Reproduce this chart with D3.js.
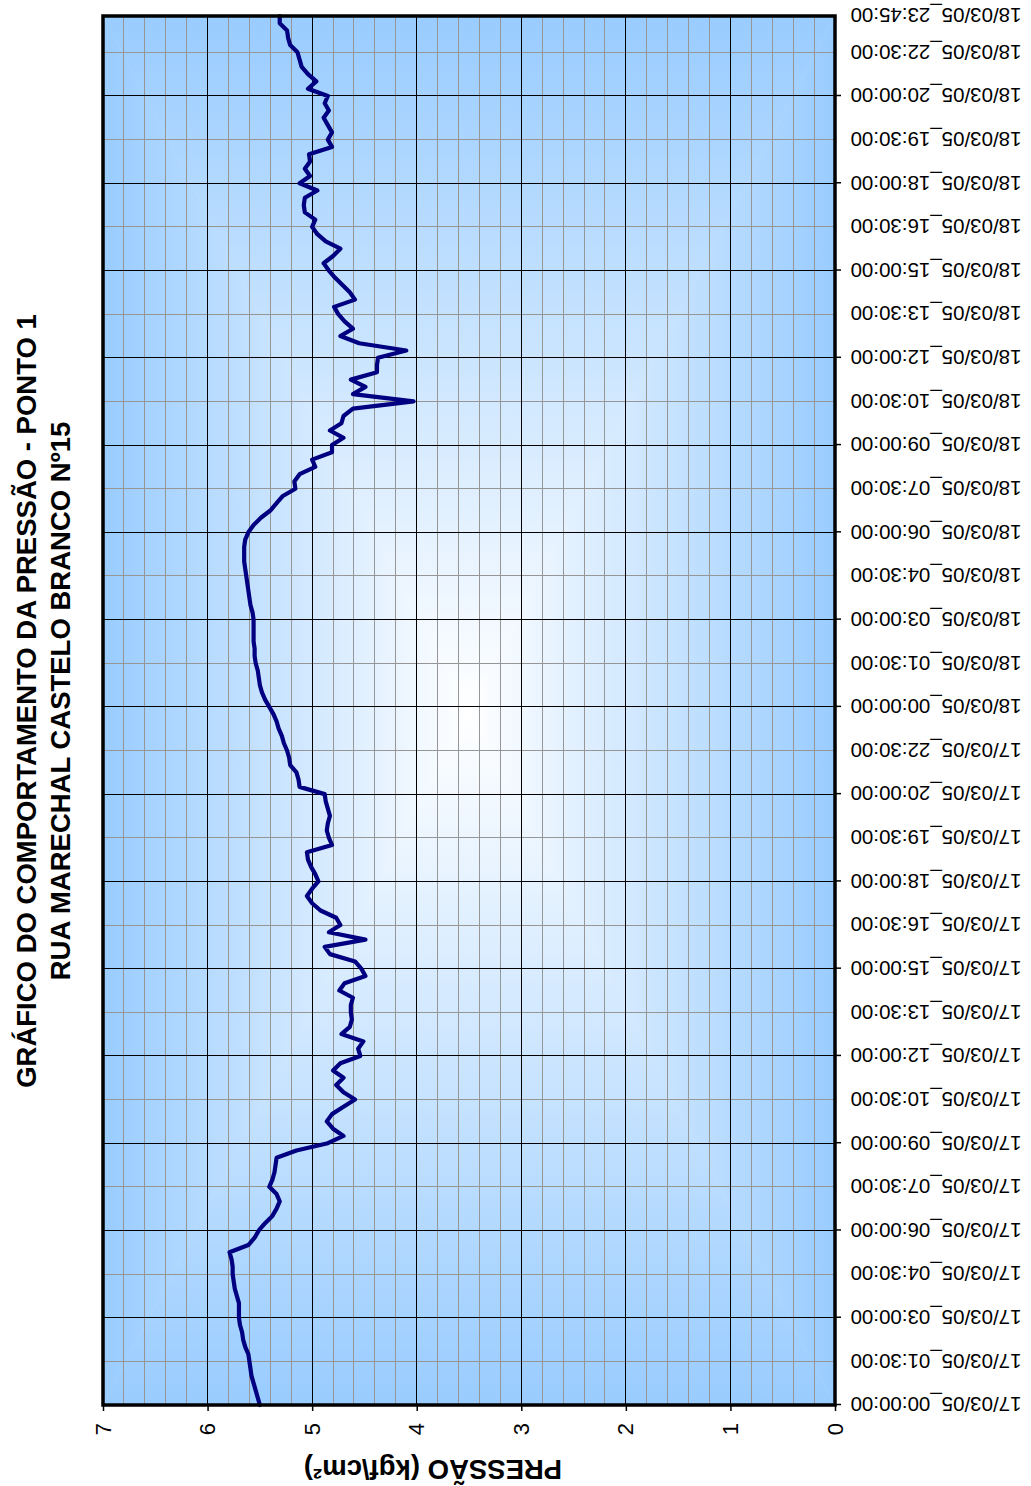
<!DOCTYPE html>
<html><head><meta charset="utf-8">
<script src="https://cdn.jsdelivr.net/npm/d3@7"></script>
<style>body{margin:0;background:#fff;} svg{display:block;font-family:"Liberation Sans",Arial,sans-serif;}</style>
</head><body><svg id="c" width="1031" height="1486"></svg>
<script>
const titleLines = ["GRÁFICO DO COMPORTAMENTO DA PRESSÃO - PONTO 1", "RUA MARECHAL CASTELO BRANCO Nº15"];
const yAxisTitle = "PRESSÃO (kgf\\cm²)";
const pressureTicks = [0, 1, 2, 3, 4, 5, 6, 7];
const pressure = [
  5.50,5.52,5.54,5.56,5.58,5.59,5.60,5.61,5.64,5.66,
  5.67,5.69,5.70,5.70,5.70,5.72,5.74,5.75,5.76,5.76,
  5.77,5.79,5.61,5.55,5.51,5.45,5.38,5.34,5.31,5.34,
  5.41,5.38,5.36,5.35,5.34,5.15,4.85,4.70,4.80,4.86,
  4.81,4.70,4.59,4.70,4.77,4.70,4.80,4.73,4.54,4.56,
  4.51,4.72,4.64,4.62,4.63,4.63,4.61,4.74,4.69,4.49,
  4.53,4.59,4.83,4.88,4.49,4.84,4.73,4.77,4.92,5.00,
  5.05,5.00,4.94,4.97,5.01,5.04,5.05,4.81,4.84,4.86,
  4.85,4.83,4.85,4.87,4.88,5.12,5.13,5.15,5.21,5.22,
  5.24,5.27,5.29,5.32,5.34,5.37,5.41,5.45,5.48,5.50,
  5.51,5.52,5.54,5.55,5.55,5.56,5.56,5.56,5.56,5.57,
  5.59,5.60,5.61,5.62,5.63,5.64,5.65,5.65,5.65,5.64,
  5.61,5.56,5.49,5.40,5.34,5.28,5.16,5.17,5.12,4.97,
  5.00,4.81,4.81,4.70,4.83,4.72,4.70,4.61,4.03,4.61,
  4.49,4.63,4.38,4.38,4.37,4.10,4.55,4.73,4.61,4.69,
  4.75,4.79,4.59,4.64,4.71,4.78,4.84,4.89,4.80,4.73,
  4.87,4.95,5.00,4.97,5.07,5.08,5.07,4.95,5.12,5.02,
  5.07,5.02,5.03,4.81,4.85,4.81,4.85,4.89,4.84,4.88,
  4.85,5.04,4.96,5.04,5.10,5.12,5.14,5.21,5.23,5.24,
  5.31,5.31
];
const tickLabels = [
  "17/03/05_00:00:00","17/03/05_01:30:00","17/03/05_03:00:00","17/03/05_04:30:00",
  "17/03/05_06:00:00","17/03/05_07:30:00","17/03/05_09:00:00","17/03/05_10:30:00",
  "17/03/05_12:00:00","17/03/05_13:30:00","17/03/05_15:00:00","17/03/05_16:30:00",
  "17/03/05_18:00:00","17/03/05_19:30:00","17/03/05_20:00:00","17/03/05_22:30:00",
  "18/03/05_00:00:00","18/03/05_01:30:00","18/03/05_03:00:00","18/03/05_04:30:00",
  "18/03/05_06:00:00","18/03/05_07:30:00","18/03/05_09:00:00","18/03/05_10:30:00",
  "18/03/05_12:00:00","18/03/05_13:30:00","18/03/05_15:00:00","18/03/05_16:30:00",
  "18/03/05_18:00:00","18/03/05_19:30:00","18/03/05_20:00:00","18/03/05_22:30:00",
  "18/03/05_23:45:00"
];
const labelEvery = 6, majorEvery = 12;

const W = 1486; // chart drawn in landscape frame, then rotated
const m = {left: 81, right: 1470, top: 103, bottom: 835};
const last = pressure.length - 1;
const tickIndex = tickLabels.map((d, i) => Math.min(i * labelEvery, last));

const svg = d3.select("#c");
const g = svg.append("g").attr("transform", `translate(0,${W}) rotate(-90)`);

const x = d3.scaleLinear().domain([0, last]).range([m.left, m.right]);
const y = d3.scaleLinear().domain([0, 7]).range([m.bottom, m.top]);

// gradient background (rectangular "from center")
const defs = svg.append("defs");
const cx = (m.left + m.right) / 2, cy = (m.top + m.bottom) / 2;
const edge = "#99ccff", center = "#ffffff";
function lg(id, x1, y1, x2, y2) {
  const gr = defs.append("linearGradient").attr("id", id).attr("gradientUnits", "userSpaceOnUse")
    .attr("x1", x1).attr("y1", y1).attr("x2", x2).attr("y2", y2);
  gr.append("stop").attr("offset", 0).attr("stop-color", edge);
  gr.append("stop").attr("offset", 1).attr("stop-color", center);
}
lg("gL", m.left, 0, cx, 0);
lg("gR", m.right, 0, cx, 0);
lg("gT", 0, m.top, 0, cy);
lg("gB", 0, m.bottom, 0, cy);
const tris = [
  ["gL", [[m.left, m.top], [m.left, m.bottom], [cx, cy]]],
  ["gR", [[m.right, m.top], [m.right, m.bottom], [cx, cy]]],
  ["gT", [[m.left, m.top], [m.right, m.top], [cx, cy]]],
  ["gB", [[m.left, m.bottom], [m.right, m.bottom], [cx, cy]]]
];
g.append("g").selectAll("polygon").data(tris).join("polygon")
  .attr("points", d => d[1].map(p => p.join(",")).join(" "))
  .attr("fill", d => `url(#${d[0]})`).attr("stroke", d => `url(#${d[0]})`).attr("stroke-width", 0.6);

// grid
const minorP = d3.range(1, 35).map(k => k / 5).filter(v => Math.abs(v - Math.round(v)) > 1e-6);
const majorP = d3.range(1, 7);
const minorT = d3.range(labelEvery, last, labelEvery).filter(i => i % majorEvery !== 0);
const majorT = d3.range(majorEvery, last, majorEvery);
const grid = g.append("g").attr("shape-rendering", "crispEdges");
grid.selectAll(".mp").data(minorP).join("line").attr("class", "mp")
  .attr("x1", m.left).attr("x2", m.right).attr("y1", d => y(d)).attr("y2", d => y(d))
  .attr("stroke", "#969696").attr("stroke-width", 1);
grid.selectAll(".mt").data(minorT).join("line").attr("class", "mt")
  .attr("x1", d => x(d)).attr("x2", d => x(d)).attr("y1", m.top).attr("y2", m.bottom)
  .attr("stroke", "#969696").attr("stroke-width", 1);
grid.selectAll(".Mp").data(majorP).join("line").attr("class", "Mp")
  .attr("x1", m.left).attr("x2", m.right).attr("y1", d => y(d)).attr("y2", d => y(d))
  .attr("stroke", "#000").attr("stroke-width", 1);
grid.selectAll(".Mt").data(majorT).join("line").attr("class", "Mt")
  .attr("x1", d => x(d)).attr("x2", d => x(d)).attr("y1", m.top).attr("y2", m.bottom)
  .attr("stroke", "#000").attr("stroke-width", 1);

// series line
g.append("path").datum(pressure)
  .attr("d", d3.line().x((d, i) => x(i)).y(d => y(d)))
  .attr("fill", "none").attr("stroke", "#000080").attr("stroke-width", 4.2)
  .attr("stroke-linejoin", "round").attr("stroke-linecap", "round");

// border
g.append("rect").attr("x", m.left).attr("y", m.top).attr("width", m.right - m.left).attr("height", m.bottom - m.top)
  .attr("fill", "none").attr("stroke", "#000").attr("stroke-width", 3.5);

// pressure axis (left in landscape frame)
const yAxis = g.append("g").attr("transform", `translate(${m.left},0)`)
  .call(d3.axisLeft(y).tickValues(pressureTicks).tickSize(6).tickPadding(12).tickFormat(d3.format("d")));
yAxis.select(".domain").remove();
yAxis.selectAll("line").attr("stroke", "#000").attr("stroke-width", 1.5);
yAxis.selectAll("text").attr("font-size", 22).attr("font-family", "Liberation Sans, Arial, sans-serif").attr("fill", "#000");

// time axis ticks (major)
const xTicks = g.append("g").attr("transform", `translate(0,${m.bottom})`)
  .call(d3.axisBottom(x).tickValues(d3.range(0, last, majorEvery)).tickSize(6).tickFormat(""));
xTicks.select(".domain").remove();
xTicks.selectAll("line").attr("stroke", "#000").attr("stroke-width", 1.5);

// time axis labels
const xLab = g.append("g").attr("transform", `translate(0,${m.bottom})`)
  .call(d3.axisBottom(x).tickValues(tickIndex).tickSize(0).tickFormat((d, i) => tickLabels[i]));
xLab.select(".domain").remove();
xLab.selectAll("text")
  .attr("transform", "rotate(-90)").attr("x", -15.5).attr("y", 0).attr("dy", "0.35em")
  .attr("text-anchor", "end").attr("font-size", 20.5)
  .attr("font-family", "Liberation Sans, Arial, sans-serif").attr("fill", "#000");

// title
g.append("g").selectAll("text").data(titleLines).join("text")
  .attr("x", 785).attr("y", (d, i) => 35.5 + i * 34.5)
  .attr("text-anchor", "middle").attr("font-size", 27.5).attr("font-weight", "bold").text(d => d);

// axis title
g.append("text").attr("transform", "translate(26,433) rotate(-90)")
  .attr("text-anchor", "middle").attr("font-size", 27.5).attr("font-weight", "bold").text(yAxisTitle);
</script></body></html>
